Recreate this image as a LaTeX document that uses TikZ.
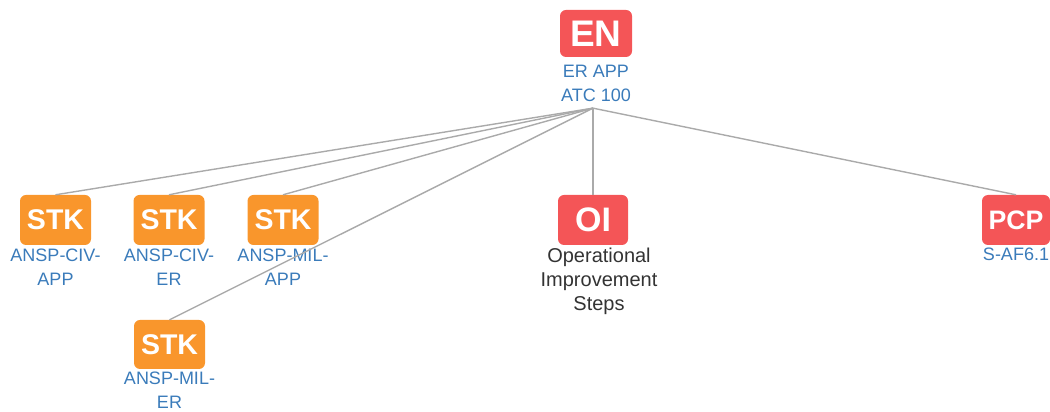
\documentclass[tikz,border=0pt]{standalone}
\usepackage{fontspec}
\setmainfont{Liberation Sans}
\usetikzlibrary{positioning}

\definecolor{redbox}{HTML}{F45557}
\definecolor{orangebox}{HTML}{F9962C}
\definecolor{lblblue}{HTML}{3A7BBA}
\definecolor{lblgray}{HTML}{333333}
\definecolor{edgegray}{HTML}{AAAAAA}

\tikzset{
    tagbox/.style={rounded corners=6pt, inner sep=0pt, minimum width=71pt, minimum height=50pt, text=white, font=\bfseries\fontsize{28.5}{30}\selectfont},
    redtag/.style={tagbox, fill=redbox},
    orangetag/.style={tagbox, fill=orangebox},
    lbl/.style={inner sep=0pt, align=center, text=lblblue, font=\fontsize{18}{24}\selectfont},
    link/.style={draw=edgegray, line width=1.4pt}
}

\begin{document}
\begin{tikzpicture}[x=1pt,y=1pt]
            \useasboundingbox (0,0) rectangle (1050,412);

            % top node
            \node[redtag, minimum width=72pt, minimum height=47pt, font=\bfseries\fontsize{37}{38}\selectfont] (en) at (596,378.5) {EN};
            \node[lbl, below=8pt of en] (enlbl) {ER APP\\ATC 100};
            \coordinate (hub) at ([xshift=-3pt,yshift=-6pt]enlbl.south);

            % stakeholders
            \node[orangetag] (stka) at (55.5,192) {STK};
            \node[lbl, below=4pt of stka] (stkalbl) {ANSP-CIV-\\APP};
            \node[orangetag] (stkb) at (169,192) {STK};
            \node[lbl, below=4pt of stkb] (stkblbl) {ANSP-CIV-\\ER};
            \node[orangetag] (stkc) at (283,192) {STK};
            \node[lbl, below=4pt of stkc] (stkclbl) {ANSP-MIL-\\APP};
            \node[orangetag, minimum height=49pt] (stkd) at (169.5,67.5) {STK};
            \node[lbl, below=3pt of stkd] (stkdlbl) {ANSP-MIL-\\ER};

            % operational improvement
            \node[redtag, minimum width=70pt, font=\bfseries\fontsize{34}{36}\selectfont] (oi) at (593,192) {OI};
            \node[lbl, text=lblgray, font=\fontsize{20}{24}\selectfont, below=3pt of oi, xshift=6pt] (oilbl) {Operational\\Improvement\\Steps};

            % pcp
            \node[redtag, minimum width=68pt, font=\bfseries\fontsize{26.7}{28}\selectfont] (pcp) at (1016,192) {PCP};
            \node[lbl, below=3pt of pcp] (pcplbl) {S-AF6.1};

            \foreach \n in {stka,stkb,stkc,stkd,oi,pcp}{
                \draw[link] (hub) -- (\n.north);
            }
        \end{tikzpicture}
\end{document}
